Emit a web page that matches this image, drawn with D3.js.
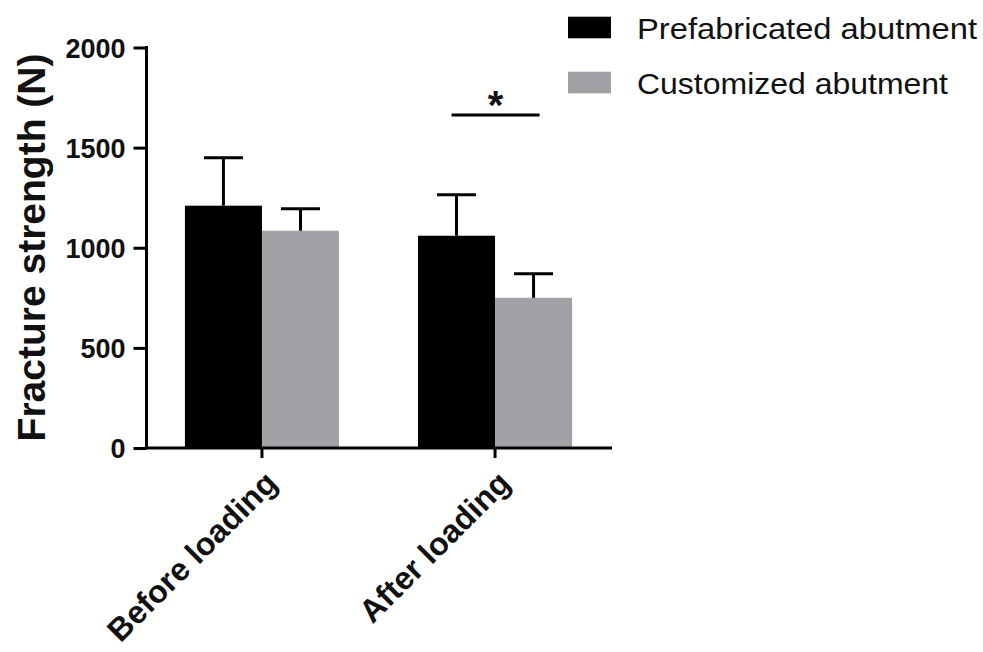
<!DOCTYPE html>
<html>
<head>
<meta charset="utf-8">
<script src="https://cdn.jsdelivr.net/npm/d3@7"></script>
<style>
  html, body { margin: 0; padding: 0; background: #fff; }
  svg { display: block; }
  text { font-family: "Liberation Sans", Arial, Helvetica, sans-serif; }
</style>
</head>
<body>
<svg id="chart" width="983" height="652"></svg>
<script>
// ---- data ----
const categories = ["Before loading", "After loading"];
const seriesNames = ["Prefabricated abutment", "Customized abutment"];
const seriesColors = ["#000000", "#a2a1a6"];
const prefabMeans = [1210, 1060];
const prefabSD = [240, 205];
const customMeans = [1085, 750];
const customSD = [110, 120];
const yTicks = [0, 500, 1000, 1500, 2000];
const yTitle = "Fracture strength (N)";
const sigPair = ["After loading"];
const sigLabel = "*";

const svg = d3.select("#chart");

const x = d3.scaleBand().domain(categories).range([146, 611])
  .paddingInner(0.339).paddingOuter(0.167);
const xs = d3.scaleBand().domain(seriesNames).range([0, x.bandwidth()]).padding(0);
const y = d3.scaleLinear().domain([0, 2000]).range([448, 47.5]);

const data = [];
categories.forEach((c, i) => {
  data.push({cat: c, s: seriesNames[0], mean: prefabMeans[i], sd: prefabSD[i], color: seriesColors[0]});
  data.push({cat: c, s: seriesNames[1], mean: customMeans[i], sd: customSD[i], color: seriesColors[1]});
});

// bars
svg.append("g").selectAll("rect").data(data).join("rect")
  .attr("x", d => x(d.cat) + xs(d.s))
  .attr("width", xs.bandwidth())
  .attr("y", d => y(d.mean))
  .attr("height", d => y(0) - y(d.mean))
  .attr("fill", d => d.color);

// error bars (upper only)
const eb = svg.append("g").attr("stroke", "#000").attr("stroke-width", 3);
data.forEach(d => {
  const cx = x(d.cat) + xs(d.s) + xs.bandwidth() / 2;
  eb.append("line").attr("x1", cx).attr("x2", cx).attr("y1", y(d.mean)).attr("y2", y(d.mean + d.sd));
  eb.append("line").attr("x1", cx - 19.5).attr("x2", cx + 19.5).attr("y1", y(d.mean + d.sd)).attr("y2", y(d.mean + d.sd));
});

// y axis
const yAxis = svg.append("g").attr("transform", "translate(146.5,0)")
  .call(d3.axisLeft(y).tickValues(yTicks).tickSize(13).tickPadding(8).tickFormat(d3.format("d")));
yAxis.select(".domain").attr("stroke", "#000").attr("stroke-width", 3).attr("d", `M0,${y(2000) - 1.5}V${y(0)}`);
yAxis.selectAll(".tick line").attr("stroke", "#000").attr("stroke-width", 3);
yAxis.selectAll(".tick text").attr("font-size", 27).attr("font-weight", "bold").attr("fill", "#111")
  .attr("font-family", '"Liberation Sans", Arial, sans-serif').attr("dy", "0.36em");

// x axis
const xAxis = svg.append("g").attr("transform", `translate(0,${y(0)})`)
  .call(d3.axisBottom(x).tickSize(10).tickFormat(""));
xAxis.select(".domain").attr("stroke", "#000").attr("stroke-width", 3).attr("d", `M145,0H612`);
xAxis.selectAll(".tick line").attr("stroke", "#000").attr("stroke-width", 3);

// rotated x labels
svg.append("g").selectAll("text").data(categories).join("text")
  .attr("transform", d => `translate(${x(d) + x.bandwidth() / 2 + 17},485) rotate(-45)`)
  .attr("text-anchor", "end")
  .attr("font-size", 32).attr("font-weight", "bold").attr("fill", "#111")
  .text(d => d);

// y title
svg.append("text")
  .attr("transform", `translate(45,${(55 + 440) / 2}) rotate(-90)`)
  .attr("text-anchor", "middle")
  .attr("font-size", 39).attr("font-weight", "bold").attr("fill", "#111")
  .text(yTitle);

// significance
sigPair.forEach(c => {
  const x0 = x(c) + xs(seriesNames[0]) + xs.bandwidth() / 2 - 5;
  const x1 = x(c) + xs(seriesNames[1]) + xs.bandwidth() / 2 + 6;
  svg.append("line").attr("x1", x0).attr("x2", x1).attr("y1", 115).attr("y2", 115)
    .attr("stroke", "#000").attr("stroke-width", 3);
  svg.append("text").attr("x", (x0 + x1) / 2).attr("y", 119)
    .attr("text-anchor", "middle").attr("font-size", 40).attr("font-weight", "bold").attr("fill", "#111")
    .text(sigLabel);
});

// legend
const legendWidths = [340, 311];
const lg = svg.append("g");
seriesNames.forEach((s, i) => {
  const ly = 16.7 + i * 55;
  lg.append("rect").attr("x", 568).attr("y", ly).attr("width", 43).attr("height", 21.6).attr("fill", seriesColors[i]);
  lg.append("text").attr("x", 637).attr("y", ly + 22.6)
    .attr("font-size", 30).attr("fill", "#111")
    .attr("textLength", legendWidths[i]).attr("lengthAdjust", "spacingAndGlyphs")
    .text(s);
});
</script>
</body>
</html>
